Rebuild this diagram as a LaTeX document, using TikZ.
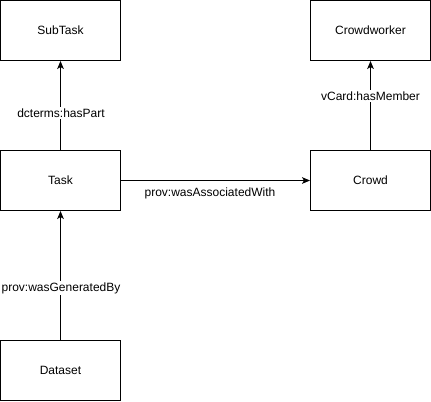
\documentclass[tikz,border=0pt]{standalone}
\usepackage{fontspec}
\setmainfont{Liberation Sans}
\usetikzlibrary{arrows.meta}
\begin{document}
\begin{tikzpicture}[x=0.75pt,y=-0.75pt,
  box/.style={draw=black,line width=0.75pt,minimum width=90pt,minimum height=45pt,inner sep=0pt,font=\fontsize{9}{11}\selectfont},
  conn/.style={draw=black,line width=0.75pt,-{Stealth[length=6pt,width=5pt,inset=1.5pt]}},
  lbl/.style={fill=white,inner sep=1pt,font=\fontsize{9}{11}\selectfont}]
\useasboundingbox (0,0) rectangle (431,401);
\node[box] (subtask) at (60.5,30.5) {SubTask};
\node[box] (worker) at (370.5,30.5) {Crowdworker};
\node[box] (task) at (60.5,180.5) {Task};
\node[box] (crowd) at (370.5,180.5) {Crowd};
\node[box] (dataset) at (60.5,370.5) {Dataset};
\draw[conn] (task) -- (subtask);
\draw[conn] (crowd) -- (worker);
\draw[conn] (task) -- (crowd);
\draw[conn] (dataset) -- (task);
\node[lbl] (l1) at (61,113) {dcterms:hasPart};
\node[lbl] (l2) at (370.5,96) {vCard:hasMember};
\node[lbl] (l3) at (210,193) {prov:wasAssociatedWith};
\node[lbl] (l4) at (61,288) {prov:wasGeneratedBy};
\end{tikzpicture}
\end{document}
